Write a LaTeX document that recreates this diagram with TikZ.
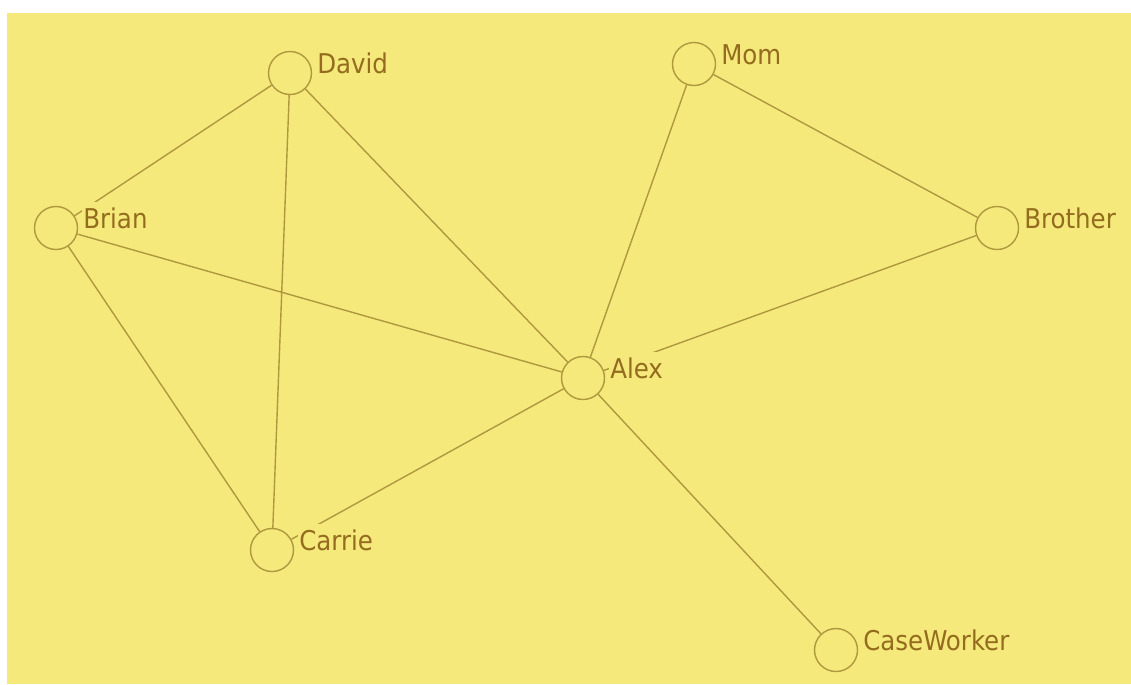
\documentclass[tikz,border=0pt]{standalone}
\usepackage{amsmath}
\usepackage{fontspec}
\setmainfont{DejaVu Sans Condensed}
\usepackage{tikz}
\usetikzlibrary{positioning}
\definecolor{bgyellow}{RGB}{246,233,124}
\definecolor{edgeolive}{RGB}{175,152,62}
\definecolor{namebrown}{RGB}{148,108,30}
\tikzset{
  person/.style={circle,draw=edgeolive,line width=0.8pt,minimum size=0.86cm,inner sep=0pt},
  who/.style={text=namebrown,fill=bgyellow,inner xsep=1pt,inner ysep=0pt,text height=1.5em,text depth=0pt,
    font=\fontsize{15.5}{18}\selectfont,yshift=0.25cm,right=0.06cm of #1},
  tie/.style={draw=edgeolive,line width=0.8pt}
}
\begin{document}
\begin{tikzpicture}[x=0.02cm,y=-0.02cm]
			\fill[white] (0,0) rectangle (1131,684);
			\fill[bgyellow] (7,13) rectangle (1131,684);
			\node[person] (david) at (290,73) {};
			\node[person] (mom) at (694,64) {};
			\node[person] (brian) at (56,228) {};
			\node[person] (brother) at (997,228) {};
			\node[person] (alex) at (583,378) {};
			\node[person] (carrie) at (272,550) {};
			\node[person] (caseworker) at (836,650) {};
			\draw[tie] (david) -- (brian);
			\draw[tie] (david) -- (carrie);
			\draw[tie] (david) -- (alex);
			\draw[tie] (brian) -- (alex);
			\draw[tie] (brian) -- (carrie);
			\draw[tie] (carrie) -- (alex);
			\draw[tie] (mom) -- (alex);
			\draw[tie] (mom) -- (brother);
			\draw[tie] (brother) -- (alex);
			\draw[tie] (alex) -- (caseworker);
			\node[who=david] (davidname) {David};
			\node[who=mom] (momname) {Mom};
			\node[who=brian] (brianname) {Brian};
			\node[who=brother] (brothername) {Brother};
			\node[who=alex] (alexname) {Alex};
			\node[who=carrie] (carriename) {Carrie};
			\node[who=caseworker] (caseworkername) {CaseWorker};
		\end{tikzpicture}
\end{document}
